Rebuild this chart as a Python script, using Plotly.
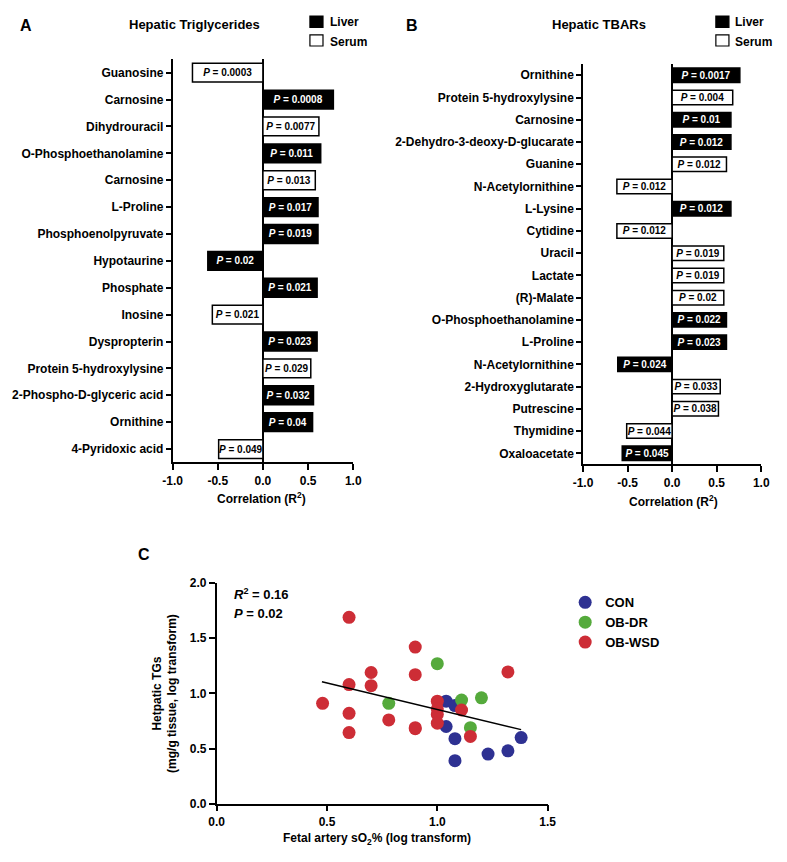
import plotly.graph_objects as go

FONT = "Liberation Sans, Arial, sans-serif"
# The page body keeps its default 8px margin, so the figure is sized to fit the
# 787x862 window inside it; positions below are given in window pixels.
OFF = 8
W, H = 787 - 2 * OFF, 862 - 2 * OFF

# ---------------- Panel A data ----------------
A_names = ["Guanosine", "Carnosine", "Dihydrouracil", "O-Phosphoethanolamine", "Carnosine",
           "L-Proline", "Phosphoenolpyruvate", "Hypotaurine", "Phosphate", "Inosine",
           "Dyspropterin", "Protein 5-hydroxylysine", "2-Phospho-D-glyceric acid",
           "Ornithine", "4-Pyridoxic acid"]
A_r = [-0.78, 0.78, 0.62, 0.64, 0.58, 0.61, 0.61, -0.61, 0.60, -0.56, 0.60, 0.53, 0.56, 0.55, -0.49]
A_p = ["0.0003", "0.0008", "0.0077", "0.011", "0.013", "0.017", "0.019", "0.02", "0.021",
       "0.021", "0.023", "0.029", "0.032", "0.04", "0.049"]
A_src = ["Serum", "Liver", "Serum", "Liver", "Serum", "Liver", "Liver", "Liver", "Liver",
         "Serum", "Liver", "Serum", "Liver", "Liver", "Serum"]

# ---------------- Panel B data ----------------
B_names = ["Ornithine", "Protein 5-hydroxylysine", "Carnosine", "2-Dehydro-3-deoxy-D-glucarate",
           "Guanine", "N-Acetylornithine", "L-Lysine", "Cytidine", "Uracil", "Lactate",
           "(R)-Malate", "O-Phosphoethanolamine", "L-Proline", "N-Acetylornithine",
           "2-Hydroxyglutarate", "Putrescine", "Thymidine", "Oxaloacetate"]
B_r = [0.76, 0.68, 0.66, 0.66, 0.61, -0.62, 0.66, -0.62, 0.58, 0.58, 0.58, 0.61, 0.61,
       -0.61, 0.54, 0.52, -0.51, -0.56]
B_p = ["0.0017", "0.004", "0.01", "0.012", "0.012", "0.012", "0.012", "0.012", "0.019",
       "0.019", "0.02", "0.022", "0.023", "0.024", "0.033", "0.038", "0.044", "0.045"]
B_src = ["Liver", "Serum", "Liver", "Liver", "Serum", "Serum", "Liver", "Serum", "Serum",
         "Serum", "Serum", "Liver", "Liver", "Liver", "Serum", "Serum", "Serum", "Liver"]

corr_ticks = [-1.0, -0.5, 0.0, 0.5, 1.0]
corr_ticktext = ["-1.0", "-0.5", "0.0", "0.5", "1.0"]

# ---------------- Panel C data ----------------
CON_x = [1.04, 1.08, 1.04, 1.08, 1.08, 1.23, 1.32, 1.38]
CON_y = [0.93, 0.89, 0.70, 0.59, 0.39, 0.45, 0.48, 0.60]
DR_x = [0.78, 1.00, 1.11, 1.15, 1.20]
DR_y = [0.91, 1.27, 0.94, 0.69, 0.96]
WSD_x = [0.60, 0.48, 0.60, 0.60, 0.60, 0.70, 0.70, 0.78, 0.90, 0.90, 0.90, 0.90,
         1.00, 1.00, 1.00, 1.00, 1.11, 1.15, 1.32]
WSD_y = [1.69, 0.91, 1.08, 0.82, 0.645, 1.19, 1.07, 0.76, 1.42, 1.17, 0.68, 0.69,
         0.93, 0.86, 0.81, 0.73, 0.85, 0.61, 1.195]
fit_x = [0.477, 1.38]
fit_y = [1.105, 0.672]

C_colors = {"CON": "#2e3192", "OB-DR": "#55aa3c", "OB-WSD": "#cd2d36"}

fig = go.Figure()


def px(x):
    return (x - OFF) / W


def py(y):
    return 1 - (y - OFF) / H


def add_bars(r, p, src, xa, ya, width):
    for tissue, fill, tcol in [("Liver", "black", "white"), ("Serum", "white", "black")]:
        idx = [i for i, s in enumerate(src) if s == tissue]
        fig.add_trace(go.Bar(
            orientation="h", x=[r[i] for i in idx], y=[i for i in idx], width=width,
            marker=dict(color=fill, line=dict(color="black", width=1.5)),
            text=["<i>P</i> = " + p[i] for i in idx],
            textposition="inside", insidetextanchor="middle", textangle=0,
            textfont=dict(family=FONT, size=10, color=tcol, weight="bold"),
            cliponaxis=False, showlegend=False, xaxis=xa, yaxis=ya, name=tissue,
        ))


add_bars(A_r, A_p, A_src, "x", "y", 0.7)
add_bars(B_r, B_p, B_src, "x2", "y2", 0.65)

for name, xs, ys in [("CON", CON_x, CON_y), ("OB-DR", DR_x, DR_y), ("OB-WSD", WSD_x, WSD_y)]:
    fig.add_trace(go.Scatter(x=xs, y=ys, mode="markers", name=name,
                             marker=dict(size=13, color=C_colors[name], line=dict(width=0)),
                             xaxis="x3", yaxis="y3", showlegend=True))
fig.add_trace(go.Scatter(x=fit_x, y=fit_y, mode="lines", line=dict(color="black", width=1.5),
                         xaxis="x3", yaxis="y3", showlegend=False))

tickfont = dict(family=FONT, size=12, color="black", weight="bold")
axis_common = dict(showline=True, linecolor="black", linewidth=1.5, ticks="outside",
                   tickcolor="black", tickwidth=1.5, showgrid=False, tickfont=tickfont)

fig.update_layout(
    width=W, height=H,
    margin=dict(l=0, r=0, t=0, b=0),
    paper_bgcolor="white", plot_bgcolor="white",
    barmode="overlay",
    font=dict(family=FONT, color="black"),
    uniformtext=dict(minsize=10, mode="show"),
    xaxis=dict(domain=[px(166.5), px(351.7)], range=[-1, 1], tickvals=corr_ticks,
               ticktext=corr_ticktext, ticklen=6, zeroline=True, zerolinecolor="black",
               zerolinewidth=1.5, anchor="y", **axis_common),
    yaxis=dict(domain=[py(463), py(53)], range=[len(A_names) - 0.5, -0.5],
               tickvals=list(range(len(A_names))), ticktext=A_names, ticklen=5,
               zeroline=False, anchor="x", **axis_common),
    xaxis2=dict(domain=[px(587.3), px(770)], range=[-1, 1], tickvals=corr_ticks,
                ticktext=corr_ticktext, ticklen=6, zeroline=True, zerolinecolor="black",
                zerolinewidth=1.5, anchor="y2", **axis_common),
    yaxis2=dict(domain=[py(465), py(58)], range=[len(B_names) - 0.5, -0.5],
                tickvals=list(range(len(B_names))), ticktext=B_names, ticklen=5,
                zeroline=False, anchor="x2", **axis_common),
    xaxis3=dict(domain=[px(211.7), px(551)], range=[0, 1.5], tickvals=[0, 0.5, 1.0, 1.5],
                ticktext=["0.0", "0.5", "1.0", "1.5"], ticklen=6, zeroline=False,
                anchor="y3", **axis_common),
    yaxis3=dict(domain=[py(810), py(585.7)], range=[0, 2], tickvals=[0, 0.5, 1.0, 1.5, 2.0],
                ticktext=["0.0", "0.5", "1.0", "1.5", "2.0"], ticklen=6, zeroline=False,
                anchor="x3", **axis_common),
    legend=dict(x=px(569), y=py(590), xanchor="left", yanchor="top",
                font=dict(family=FONT, size=13, color="black", weight="bold"),
                bgcolor="rgba(0,0,0,0)", itemwidth=30, tracegroupgap=0),
)

ann = []


def text(x, y, s, size=12, xanchor="center", angle=0, yanchor="middle"):
    ann.append(dict(x=px(x), y=py(y), xref="paper", yref="paper", text=s, showarrow=False,
                    xanchor=xanchor, yanchor=yanchor, textangle=angle,
                    font=dict(family=FONT, size=size, color="black", weight="bold")))


text(8, 8, "A", size=16, xanchor="left", yanchor="top")
text(404, 8, "B", size=16, xanchor="left", yanchor="top")
text(137, 557, "C", size=16)
text(189, 18, "Hepatic Triglycerides", size=13)
text(604, 18, "Hepatic TBARs", size=13)
text(258, 499, "Correlation (R<sup>2</sup>)", size=12)
text(680, 502, "Correlation (R<sup>2</sup>)", size=12)
text(376, 846, "Fetal artery sO<sub>2</sub>% (log transform)", size=12)
text(158, 698, "Hetpatic TGs<br>(mg/g tissue, log transform)", size=12, angle=-90)
text(227, 597, "<i>R</i><sup>2</sup> = 0.16", size=13, xanchor="left")
text(227, 617, "<i>P</i> = 0.02", size=13, xanchor="left")

# legends for panels A and B
shapes = []
for x0, tx in [(307.3, 326), (723.5, 741.5)]:
    shapes.append(dict(type="rect", xref="paper", yref="paper", x0=px(x0), x1=px(x0 + 13.4),
                       y0=py(20.5), y1=py(9), fillcolor="black", line=dict(color="black", width=1.2)))
    shapes.append(dict(type="rect", xref="paper", yref="paper", x0=px(x0), x1=px(x0 + 13.4),
                       y0=py(39.5), y1=py(28.3), fillcolor="white", line=dict(color="black", width=1.2)))
    text(tx, 15, "Liver", size=12, xanchor="left")
    text(tx, 35, "Serum", size=12, xanchor="left")

fig.update_layout(annotations=ann, shapes=shapes)

fig.write_html("out.html", config={"displayModeBar": False})
